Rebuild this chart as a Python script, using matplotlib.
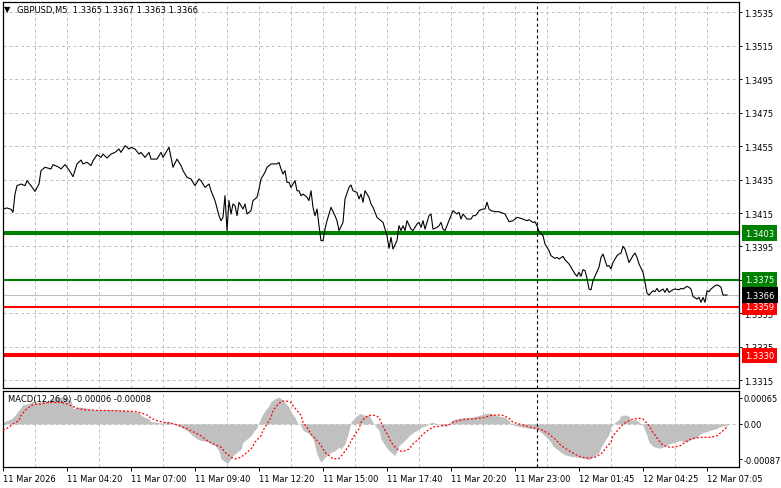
#!/usr/bin/env python3
"""
GBPUSD M5 chart in the MetaTrader style: price line with level lines on top,
MACD(12,26,9) histogram and signal line below. Saves out.png.
"""

import numpy as np
import matplotlib

matplotlib.use("Agg")
import matplotlib.pyplot as plt

plt.rcParams["font.family"] = ["DejaVu Sans"]
plt.rcParams["lines.scale_dashes"] = False

# --- data: bar index (5-minute bars) and close price ---
price_bar = [
    0, 2, 4, 5, 6, 7, 9, 11, 12, 14, 16, 18, 19, 21, 24, 25, 28, 29, 31, 33,
    35, 37, 39, 40, 42, 44, 45, 47, 49, 50, 52, 54, 56, 58, 59, 61, 63, 64, 66, 68,
    69, 71, 73, 74, 77, 79, 80, 82, 83, 84, 85, 87, 89, 90, 92, 94, 96, 98, 99, 101,
    103, 104, 106, 108, 109, 110, 111, 112, 113, 114, 115, 116, 117, 118, 120, 121, 122, 124, 125, 127,
    128, 129, 131, 132, 134, 137, 138, 139, 140, 141, 142, 143, 144, 146, 147, 148, 149, 150, 152, 153,
    154, 155, 156, 157, 158, 159, 160, 161, 162, 164, 166, 167, 168, 170, 171, 173, 174, 175, 177, 178,
    179, 180, 181, 183, 184, 185, 187, 188, 190, 191, 192, 193, 194, 195, 197, 198, 199, 200, 201, 202,
    204, 205, 207, 208, 209, 210, 211, 213, 214, 215, 217, 218, 219, 220, 221, 223, 224, 225, 227, 228,
    229, 230, 232, 234, 235, 236, 237, 238, 240, 241, 242, 243, 244, 246, 248, 251, 253, 255, 257, 259,
    262, 263, 265, 266, 267, 268, 270, 271, 273, 274, 276, 277, 278, 280, 281, 283, 284, 286, 287, 288,
    289, 290, 291, 292, 293, 294, 295, 296, 298, 299, 300, 302, 303, 304, 305, 307, 308, 309, 310, 311,
    312, 313, 315, 316, 317, 318, 320, 321, 322, 323, 325, 326, 327, 328, 330, 331, 332, 333, 335, 336,
    338, 339, 340, 342, 343, 344, 345, 347, 348, 349, 350, 351, 352, 353, 354, 356, 357, 358, 359, 360,
    362,
]
price_close = [
    1.34174, 1.34180, 1.34172, 1.34154, 1.34263, 1.34313, 1.34323, 1.34313, 1.34343, 1.34313,
    1.34279, 1.34323, 1.34403, 1.34423, 1.34413, 1.34439, 1.34423, 1.34413, 1.34439, 1.34407,
    1.34367, 1.34443, 1.34466, 1.34443, 1.34453, 1.34433, 1.34462, 1.34498, 1.34482, 1.34502,
    1.34478, 1.34502, 1.34512, 1.34532, 1.34512, 1.34552, 1.34532, 1.34542, 1.34532, 1.34502,
    1.34512, 1.34482, 1.34512, 1.34472, 1.34472, 1.34512, 1.34482, 1.34522, 1.34542, 1.34482,
    1.34423, 1.34472, 1.34433, 1.34403, 1.34363, 1.34353, 1.34313, 1.34353, 1.34343, 1.34303,
    1.34323, 1.34283, 1.34224, 1.34134, 1.34104, 1.34124, 1.34254, 1.34045, 1.34224, 1.34144,
    1.34204, 1.34194, 1.34134, 1.34214, 1.34174, 1.34204, 1.34144, 1.34164, 1.34224, 1.34244,
    1.34293, 1.34353, 1.34393, 1.34423, 1.34443, 1.34443, 1.34452, 1.34413, 1.34383, 1.34403,
    1.34333, 1.34333, 1.34303, 1.34343, 1.34283, 1.34283, 1.34253, 1.34263, 1.34244, 1.34224,
    1.34283, 1.34184, 1.34134, 1.34174, 1.34074, 1.33985, 1.33985, 1.34054, 1.34104, 1.34184,
    1.34134, 1.34104, 1.34045, 1.34094, 1.34234, 1.34303, 1.34317, 1.34283, 1.34273, 1.34234,
    1.34263, 1.34214, 1.34283, 1.34244, 1.34204, 1.34184, 1.34124, 1.34114, 1.34094, 1.34054,
    1.34015, 1.33939, 1.34005, 1.33935, 1.33985, 1.34074, 1.34045, 1.34074, 1.34045, 1.34104,
    1.34054, 1.34045, 1.34084, 1.34094, 1.34064, 1.34104, 1.34054, 1.34134, 1.34144, 1.34054,
    1.34064, 1.34074, 1.34094, 1.34054, 1.34045, 1.34104, 1.34134, 1.34164, 1.34144, 1.34154,
    1.34114, 1.34144, 1.34114, 1.34114, 1.34134, 1.34134, 1.34144, 1.34164, 1.34174, 1.34174,
    1.34214, 1.34174, 1.34164, 1.34158, 1.34158, 1.34144, 1.34098, 1.34104, 1.34124, 1.34118,
    1.34104, 1.34110, 1.34094, 1.34098, 1.34074, 1.34039, 1.34015, 1.33965, 1.33925, 1.33895,
    1.33879, 1.33885, 1.33875, 1.33891, 1.33871, 1.33846, 1.33826, 1.33786, 1.33772, 1.33796,
    1.33772, 1.33812, 1.33806, 1.33760, 1.33696, 1.33692, 1.33746, 1.33772, 1.33826, 1.33885,
    1.33905, 1.33832, 1.33836, 1.33816, 1.33855, 1.33895, 1.33905, 1.33911, 1.33951, 1.33935,
    1.33895, 1.33855, 1.33895, 1.33911, 1.33885, 1.33846, 1.33796, 1.33736, 1.33672, 1.33660,
    1.33686, 1.33680, 1.33700, 1.33680, 1.33696, 1.33676, 1.33700, 1.33676, 1.33692, 1.33696,
    1.33692, 1.33700, 1.33696, 1.33712, 1.33706, 1.33696, 1.33652, 1.33636, 1.33646, 1.33617,
    1.33646, 1.33617, 1.33686, 1.33680, 1.33696, 1.33716, 1.33720, 1.33716, 1.33706, 1.33660,
    1.33660,
]

# MACD main line (drawn as histogram) and signal line
hist_bar = [
    0, 2, 4, 6, 7, 9, 10, 12, 14, 15, 17, 19, 20, 23, 25, 28, 30, 32, 34, 35,
    37, 39, 42, 45, 49, 52, 55, 59, 62, 65, 68, 69, 71, 73, 74, 77, 79, 81, 83, 84,
    87, 89, 92, 94, 95, 97, 99, 102, 104, 106, 108, 109, 111, 112, 114, 115, 117, 119, 120, 122,
    124, 125, 127, 128, 129, 131, 133, 134, 136, 138, 139, 141, 143, 144, 146, 147, 149, 150, 152, 154,
    155, 157, 158, 159, 161, 163, 164, 166, 168, 169, 171, 173, 174, 176, 178, 179, 181, 183, 184, 186,
    188, 189, 191, 193, 194, 196, 197, 198, 200, 202, 203, 205, 207, 208, 210, 212, 213, 215, 217, 218,
    220, 222, 223, 225, 228, 231, 234, 238, 241, 243, 246, 248, 251, 253, 254, 256, 258, 260, 263, 265,
    268, 270, 272, 274, 275, 277, 279, 281, 284, 288, 290, 293, 294, 296, 298, 299, 301, 303, 304, 306,
    308, 309, 311, 313, 314, 316, 317, 318, 320, 322, 323, 325, 328, 330, 332, 333, 336, 338, 340, 342,
    343, 345, 347, 348, 350, 352, 353, 355, 357, 358, 360, 362,
]
hist_val = [
    0.00004, 0.00008, 0.00012, 0.00021, 0.00029, 0.00041, 0.00047, 0.00049, 0.00053, 0.00057,
    0.00053, 0.00055, 0.00057, 0.00057, 0.00062, 0.00066, 0.00066, 0.00063, 0.00057, 0.00037,
    0.00041, 0.00041, 0.00039, 0.00035, 0.00035, 0.00035, 0.00035, 0.00034, 0.00033, 0.00030,
    0.00029, 0.00021, 0.00016, 0.00012, 0.00006, 0.00004, 0.00002, 0.00004, 0.00007, 0.00002,
    -0.00004, -0.00008, -0.00016, -0.00025, -0.00029, -0.00037, -0.00041, -0.00043, -0.00049, -0.00053,
    -0.00066, -0.00086, -0.00093, -0.00098, -0.00086, -0.00078, -0.00070, -0.00062, -0.00045, -0.00037,
    -0.00029, -0.00021, -0.00008, 0.00004, 0.00016, 0.00033, 0.00045, 0.00055, 0.00062, 0.00066,
    0.00062, 0.00053, 0.00041, 0.00029, 0.00016, 0.00004, -0.00004, -0.00016, -0.00021, -0.00029,
    -0.00037, -0.00074, -0.00086, -0.00094, -0.00082, -0.00074, -0.00070, -0.00066, -0.00057, -0.00062,
    -0.00049, -0.00016, 0.00004, 0.00016, 0.00025, 0.00025, 0.00021, 0.00022, 0.00012, -0.00004,
    -0.00016, -0.00037, -0.00053, -0.00066, -0.00070, -0.00078, -0.00066, -0.00053, -0.00045, -0.00035,
    -0.00029, -0.00021, -0.00016, -0.00012, -0.00006, -0.00004, 0.00002, 0.00004, 0.00000, -0.00002,
    -0.00004, -0.00006, 0.00000, 0.00011, 0.00014, 0.00016, 0.00016, 0.00021, 0.00025, 0.00027,
    0.00022, 0.00019, 0.00016, 0.00008, 0.00000, -0.00004, -0.00006, -0.00008, -0.00011, -0.00012,
    -0.00016, -0.00025, -0.00035, -0.00045, -0.00055, -0.00062, -0.00070, -0.00076, -0.00080, -0.00082,
    -0.00084, -0.00088, -0.00084, -0.00078, -0.00070, -0.00057, -0.00041, -0.00025, -0.00008, 0.00004,
    0.00011, 0.00021, 0.00022, 0.00019, 0.00008, 0.00012, 0.00008, 0.00004, -0.00004, -0.00029,
    -0.00045, -0.00055, -0.00060, -0.00057, -0.00053, -0.00049, -0.00045, -0.00041, -0.00043, -0.00045,
    -0.00041, -0.00037, -0.00033, -0.00027, -0.00021, -0.00019, -0.00016, -0.00014, -0.00011, -0.00008,
    -0.00004, -0.00006,
]
sig_bar = [
    0, 3, 5, 8, 9, 11, 13, 14, 17, 19, 22, 25, 29, 32, 34, 37, 40, 44, 49, 54,
    59, 64, 67, 69, 72, 74, 77, 80, 84, 87, 89, 92, 95, 99, 102, 105, 109, 111, 114, 116,
    119, 121, 124, 126, 129, 130, 132, 134, 135, 137, 139, 141, 144, 145, 147, 149, 150, 152, 154, 157,
    159, 161, 164, 165, 168, 170, 173, 175, 178, 179, 181, 184, 186, 188, 189, 191, 193, 194, 196, 198,
    200, 203, 205, 208, 210, 213, 215, 218, 220, 223, 225, 228, 231, 234, 238, 241, 244, 248, 250, 253,
    255, 258, 261, 264, 268, 270, 273, 276, 279, 283, 286, 289, 293, 296, 299, 301, 304, 305, 308, 310,
    313, 315, 318, 320, 323, 325, 328, 330, 333, 335, 339, 341, 344, 346, 349, 351, 354, 357, 359, 362,
]
sig_val = [
    -0.00016, -0.00008, 0.00000, 0.00008, 0.00021, 0.00033, 0.00041, 0.00045, 0.00049, 0.00049,
    0.00052, 0.00053, 0.00053, 0.00049, 0.00045, 0.00039, 0.00035, 0.00034, 0.00033, 0.00033,
    0.00032, 0.00031, 0.00030, 0.00027, 0.00022, 0.00014, 0.00008, 0.00004, 0.00002, -0.00002,
    -0.00006, -0.00012, -0.00019, -0.00029, -0.00041, -0.00049, -0.00057, -0.00070, -0.00082, -0.00086,
    -0.00082, -0.00074, -0.00062, -0.00045, -0.00029, -0.00016, 0.00000, 0.00016, 0.00033, 0.00045,
    0.00055, 0.00057, 0.00053, 0.00045, 0.00033, 0.00021, 0.00004, -0.00008, -0.00025, -0.00041,
    -0.00053, -0.00070, -0.00082, -0.00086, -0.00085, -0.00074, -0.00053, -0.00033, -0.00012, 0.00004,
    0.00016, 0.00022, 0.00021, 0.00016, 0.00004, -0.00016, -0.00033, -0.00045, -0.00057, -0.00066,
    -0.00068, -0.00062, -0.00049, -0.00037, -0.00025, -0.00014, -0.00008, -0.00006, -0.00004, -0.00002,
    0.00004, 0.00008, 0.00011, 0.00012, 0.00014, 0.00016, 0.00021, 0.00022, 0.00021, 0.00014,
    0.00004, 0.00000, -0.00004, -0.00008, -0.00012, -0.00016, -0.00025, -0.00037, -0.00053, -0.00066,
    -0.00074, -0.00082, -0.00084, -0.00082, -0.00074, -0.00062, -0.00045, -0.00029, -0.00012, 0.00000,
    0.00008, 0.00012, 0.00014, 0.00012, -0.00004, -0.00021, -0.00041, -0.00053, -0.00057, -0.00057,
    -0.00053, -0.00045, -0.00037, -0.00035, -0.00033, -0.00033, -0.00033, -0.00029, -0.00021, -0.00008,
]

# horizontal levels: price, colour, line width (pt)
level_price = [1.3403, 1.3375, 1.3359, 1.3330]
level_color = ["#008000", "#008000", "#ff0000", "#ff0000"]
level_width = [2.9, 1.5, 1.5, 2.9]
last_price = 1.3366

price_ticks = [1.3315, 1.3335, 1.3355, 1.3375, 1.3395, 1.3415, 1.3435,
               1.3455, 1.3475, 1.3495, 1.3515, 1.3535]
time_tick_bar = [0, 32, 64, 96, 128, 160, 192, 224, 256, 288, 320, 352]
time_tick_label = ["11 Mar 2026", "11 Mar 04:20", "11 Mar 07:00", "11 Mar 09:40",
                   "11 Mar 12:20", "11 Mar 15:00", "11 Mar 17:40", "11 Mar 20:20",
                   "11 Mar 23:00", "12 Mar 01:45", "12 Mar 04:25", "12 Mar 07:05"]
grid_step = 16
day_separator_bar = 267
n_slots = 368

title_text = "GBPUSD,M5  1.3365 1.3367 1.3363 1.3366"
macd_text = "MACD(12,26,9) -0.00006 -0.00008"

FS = 6
GRID = dict(color="#c0c0c0", linestyle=(0, (2.2, 2.0)), linewidth=0.7)

W, H = 781, 489
fig = plt.figure(figsize=(W / 100, H / 100), dpi=100)
fig.patch.set_facecolor("white")


def px_axes(left, top, right, bottom):
    return fig.add_axes([left / W, 1 - bottom / H, (right - left) / W, (bottom - top) / H])


def style_frame(a):
    for sp in a.spines.values():
        sp.set_color("black")
        sp.set_linewidth(0.9)
    a.set_xlim(0, n_slots)
    a.set_xticks(np.arange(grid_step, n_slots, grid_step), minor=True)
    a.tick_params(axis="x", which="minor", length=0)
    a.grid(True, axis="x", which="minor", **GRID)
    a.yaxis.tick_right()
    a.tick_params(axis="y", which="major", direction="out", length=2.5,
                  width=0.7, pad=1.5, labelsize=FS, colors="black")
    a.axvline(day_separator_bar, color="black", linestyle=(0, (2.2, 2.0)), linewidth=0.8, zorder=3)


# --- price panel ---
ax = px_axes(3, 3, 739, 389)
style_frame(ax)
ax.set_ylim(1.33105, 1.35410)
ax.set_yticks(price_ticks)
ax.set_yticklabels([f"{t:.4f}" for t in price_ticks])
ax.grid(True, axis="y", which="major", **GRID)
ax.set_xticks([])

ax.axhline(last_price, color="#c0c0c0", linewidth=0.8, zorder=2)
for p, c, lw in zip(level_price, level_color, level_width):
    ax.axhline(p, color=c, linewidth=lw, zorder=2)
ax.plot(price_bar, price_close, color="black", linewidth=0.8, zorder=4)

# coloured price tags on the right axis
tags = list(zip(level_price, level_color)) + [(last_price, "black")]
for p, c in tags:
    ax.annotate(f"{p:.4f}", xy=(1, p), xycoords=("axes fraction", "data"),
                xytext=(4.2, 0), textcoords="offset points", ha="left", va="center",
                fontsize=FS, color="white", annotation_clip=False, zorder=10,
                bbox=dict(boxstyle="square,pad=0.4", fc=c, ec=c, lw=0))

fig.text(4 / W, 1 - 10 / H, "\u25bc", fontsize=6, va="center", ha="left")
fig.text(17 / W, 1 - 10 / H, title_text, fontsize=FS, va="center", ha="left")

# --- MACD panel ---
mx = px_axes(3, 392, 739, 468)
style_frame(mx)
mx.set_ylim(-0.00106, 0.00081)
mx.set_yticks([-0.00087, 0.0, 0.00065])
mx.set_yticklabels(["-0.00087", "0.00", "0.00065"])
mx.tick_params(axis="y", pad=0.8)
mx.axhline(0, zorder=0, **GRID)
mx.fill_between(hist_bar, hist_val, 0, color="#c0c0c0", linewidth=0, zorder=2)
mx.plot(sig_bar, sig_val, color="#ff0000", linestyle=(0, (1.4, 1.4)), linewidth=0.9, zorder=4)
mx.text(5 / 736, 0.96, macd_text, transform=mx.transAxes, fontsize=FS, va="top", ha="left")

mx.set_xticks(time_tick_bar)
mx.set_xticklabels(time_tick_label)
mx.tick_params(axis="x", which="major", direction="out", length=3, width=0.7,
               pad=2, labelsize=FS)
for lbl in mx.get_xticklabels():
    lbl.set_ha("left")

fig.savefig("out.png", dpi=100, facecolor="white")
